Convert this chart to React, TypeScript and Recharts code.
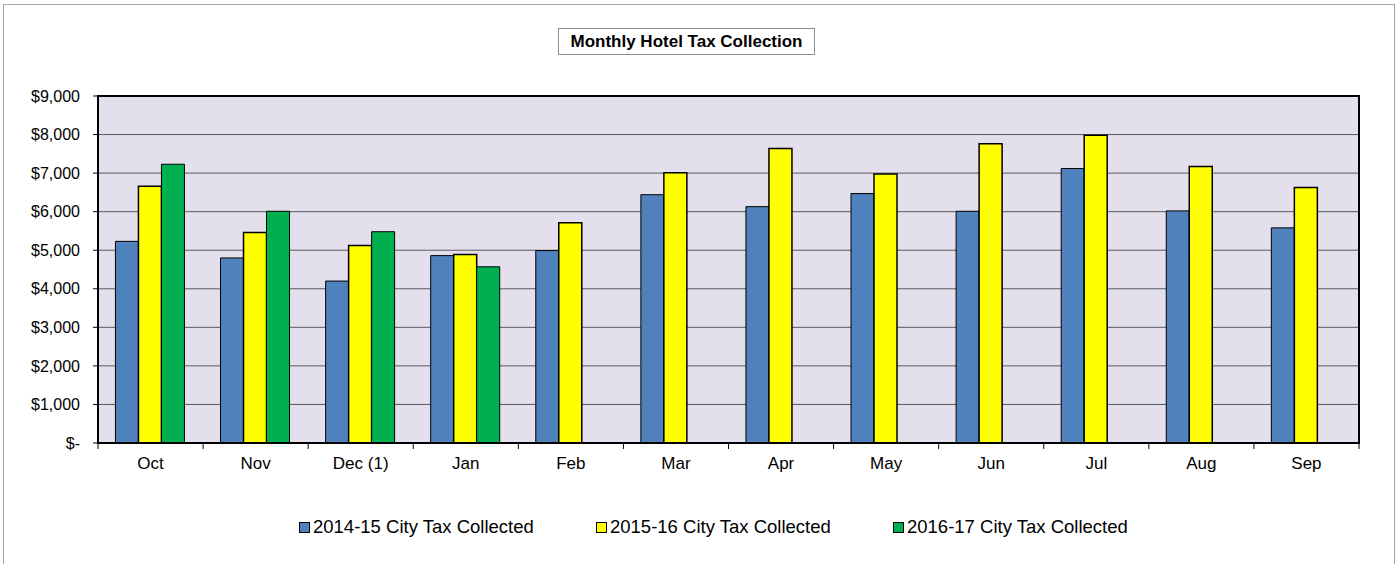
import React from 'react';
import { BarChart, Bar, XAxis, YAxis, CartesianGrid, ReferenceArea, Legend } from 'recharts';

const months = ['Oct', 'Nov', 'Dec (1)', 'Jan', 'Feb', 'Mar', 'Apr', 'May', 'Jun', 'Jul', 'Aug', 'Sep'];
const fy1415 = [5230, 4800, 4200, 4860, 4990, 6440, 6130, 6470, 6010, 7120, 6020, 5580];
const fy1516 = [6660, 5460, 5120, 4890, 5710, 7010, 7640, 6980, 7760, 7980, 7170, 6630];
const fy1617: (number | null)[] = [7230, 6010, 5480, 4570, null, null, null, null, null, null, null, null];
const yTicks = [0, 1000, 2000, 3000, 4000, 5000, 6000, 7000, 8000, 9000];

const seriesNames = ['2014-15 City Tax Collected', '2015-16 City Tax Collected', '2016-17 City Tax Collected'];
const seriesColors = ['#4F81BD', '#FFFF00', '#00B050'];

const data = months.map((m, i) => ({ month: m, a: fy1415[i], b: fy1516[i], c: fy1617[i] }));

const FONT = 'Liberation Sans, Arial, sans-serif';

const fmtY = (v: number) => (v === 0 ? '$-' : '$' + v.toLocaleString('en-US'));

const XTick = (props: any) => {
  const { x, y, payload, width, visibleTicksCount, index } = props;
  const bw = width / visibleTicksCount;
  const axisY = y - 5;
  const left = x - bw / 2;
  return (
    <g>
      <line x1={left} y1={axisY} x2={left} y2={axisY + 6} stroke="#000" strokeWidth={1} />
      {index === visibleTicksCount - 1 && (
        <line x1={x + bw / 2} y1={axisY} x2={x + bw / 2} y2={axisY + 6} stroke="#000" strokeWidth={1} />
      )}
      <text x={x} y={axisY + 26} textAnchor="middle" fontSize={17} fontFamily={FONT} fill="#000">
        {payload.value}
      </text>
    </g>
  );
};

const LegendContent = () => (
  <div style={{ display: 'flex', fontFamily: FONT, fontSize: 18.5, color: '#000', whiteSpace: 'nowrap' }}>
    {seriesNames.map((n, i) => (
      <div key={n} style={{ display: 'flex', alignItems: 'center', width: 297 }}>
        <span
          style={{
            display: 'inline-block',
            width: 9,
            height: 9,
            background: seriesColors[i],
            border: '1px solid #000',
            marginRight: 3,
          }}
        />
        <span>{n}</span>
      </div>
    ))}
  </div>
);

export default function App() {
  return (
    <div style={{ position: 'absolute', left: 0, top: 0, width: 1399, height: 564, overflow: 'hidden', background: '#fff' }}>
      <div
        style={{
          position: 'absolute',
          left: 3,
          top: 4,
          width: 1390,
          height: 600,
          border: '1px solid #a6a6a6',
        }}
      />
      <div
        style={{
          position: 'absolute',
          left: 558,
          top: 28,
          width: 255,
          height: 25,
          border: '1px solid #8c8c8c',
          fontFamily: FONT,
          fontWeight: 'bold',
          fontSize: 17,
          lineHeight: '25px',
          textAlign: 'center',
          color: '#000',
          background: '#fff',
        }}
      >
        Monthly Hotel Tax Collection
      </div>
      <div style={{ position: 'absolute', left: 0, top: 0 }}>
        <BarChart
          width={1399}
          height={564}
          data={data}
          margin={{ top: 96, right: 40, left: 8, bottom: 91 }}
          barCategoryGap="16.6%"
          barGap={0}
        >
          <CartesianGrid vertical={false} stroke="#5a5a5a" strokeWidth={1} fill="#E4DFEC" fillOpacity={1} />
          <XAxis
            dataKey="month"
            height={30}
            tickSize={5}
            tickMargin={0}
            tickLine={false}
            axisLine={{ stroke: '#000', strokeWidth: 2 }}
            tick={<XTick />}
            interval={0}
          />
          <YAxis
            width={90}
            domain={[0, 9000]}
            ticks={yTicks}
            tickFormatter={fmtY}
            tickSize={5}
            tickMargin={13}
            tickLine={{ stroke: '#000' }}
            axisLine={{ stroke: '#000', strokeWidth: 2 }}
            tick={{ fontSize: 16, fontFamily: FONT, fill: '#000' }}
            allowDataOverflow
          />
          <Bar dataKey="a" name={seriesNames[0]} fill={seriesColors[0]} stroke="#000" strokeWidth={1} isAnimationActive={false} />
          <Bar dataKey="b" name={seriesNames[1]} fill={seriesColors[1]} stroke="#000" strokeWidth={1.5} isAnimationActive={false} />
          <Bar dataKey="c" name={seriesNames[2]} fill={seriesColors[2]} stroke="#000" strokeWidth={1} isAnimationActive={false} />
          <ReferenceArea y1={0} y2={9000} fill="none" stroke="#000" strokeWidth={2} ifOverflow="visible" />
          <Legend
            layout="horizontal"
            verticalAlign="middle"
            align="center"
            content={<LegendContent />}
            wrapperStyle={{ position: 'absolute', left: 299, top: 516, width: 960 }}
          />
        </BarChart>
      </div>
    </div>
  );
}
